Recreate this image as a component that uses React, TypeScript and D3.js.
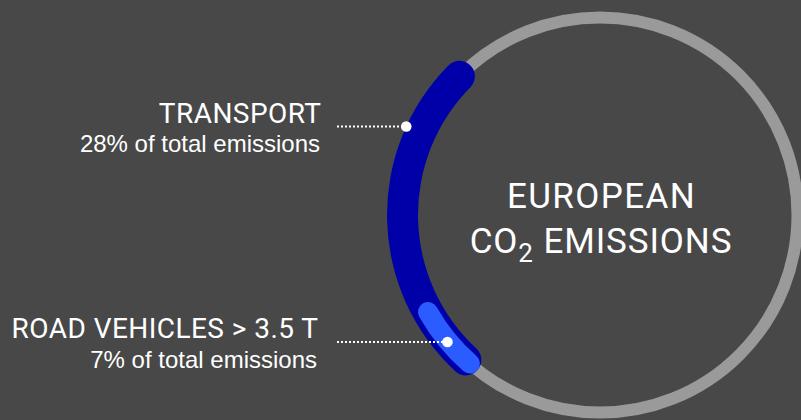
import React from "react";
import * as d3 from "d3";

// ---- data ----
const categories = ["TRANSPORT", "ROAD VEHICLES > 3.5 T"];
const shares = [28, 7]; // % of total EU CO2 emissions
const subtitles = ["28% of total emissions", "7% of total emissions"];
const titleLines = ["EUROPEAN", "CO", "2", " EMISSIONS"];

const W = 801;
const H = 420;
const cx = 600;
const cy = 215;
const ringR = 197.5;
const startDeg = 218.3; // where the arcs begin (clockwise from 12 o'clock)

const BG = "#484848";
const RING = "#9a9a9a";
const DARK = "#0000a8";
const LIGHT = "#2b5cff";
const headFont = "Roboto, 'DejaVu Sans', sans-serif";
const subFont = "'Liberation Sans', Arial, sans-serif";

export default function App() {
  const angle = d3.scaleLinear().domain([0, 100]).range([0, 2 * Math.PI]);
  const a0 = (startDeg * Math.PI) / 180;

  const darkArc = d3
    .arc<any>()
    .innerRadius(ringR - 15.5)
    .outerRadius(ringR + 15.5)
    .cornerRadius(15.5);
  const lightArc = d3
    .arc<any>()
    .innerRadius(ringR - 10)
    .outerRadius(ringR + 10)
    .cornerRadius(10);

  const arcs = [
    { gen: darkArc, color: DARK, s: a0, e: a0 + angle(shares[0]) },
    { gen: lightArc, color: LIGHT, s: a0, e: a0 + angle(shares[1]) },
  ];

  // label layout: line y, radius where leader meets arc, text x-end
  const labels = [
    { titleY: 123.3, subY: 152.3, lineY: 126.5, r: ringR + 15.5, tx: 321.5, sx: 320 },
    { titleY: 338.3, subY: 368.3, lineY: 342, r: ringR + 1, tx: 318.5, sx: 317 },
  ];

  return (
    <div style={{ position: "absolute", left: 0, top: 0, width: W, height: H, background: BG }}>
      <svg width={W} height={H} style={{ display: "block" }}>
        <rect width={W} height={H} fill={BG} />
        <circle cx={cx} cy={cy} r={ringR} fill="none" stroke={RING} strokeWidth={12} />
        <g transform={`translate(${cx},${cy})`}>
          {arcs.map((a, i) => (
            <path
              key={i}
              d={a.gen({ startAngle: a.s, endAngle: a.e }) as string}
              fill={a.color}
            />
          ))}
        </g>
        {labels.map((l, i) => {
          const dy = l.lineY - cy;
          const dotX = cx - Math.sqrt(l.r * l.r - dy * dy);
          return (
            <g key={i}>
              <line
                x1={337}
                x2={dotX}
                y1={l.lineY}
                y2={l.lineY}
                stroke="#fff"
                strokeWidth={2}
                strokeDasharray="2 2"
              />
              <circle cx={dotX} cy={l.lineY} r={5.3} fill="#fff" />
              <text
                x={l.tx}
                y={l.titleY}
                textAnchor="end"
                fill="#fff"
                fontFamily={headFont}
                fontSize={28}
                letterSpacing={0.45}
              >
                {categories[i]}
              </text>
              <text
                x={l.sx}
                y={l.subY}
                textAnchor="end"
                fill="#fff"
                fontFamily={subFont}
                fontSize={24}
              >
                {subtitles[i]}
              </text>
            </g>
          );
        })}
        <text
          x={cx + 1.5}
          y={208.3}
          textAnchor="middle"
          fill="#fff"
          fontFamily={headFont}
          fontSize={35}
          letterSpacing={1.4}
        >
          {titleLines[0]}
        </text>
        <text
          x={cx + 1}
          y={253.3}
          textAnchor="middle"
          fill="#fff"
          fontFamily={headFont}
          fontSize={35}
          letterSpacing={0.9}
        >
          {titleLines[1]}
          <tspan fontSize={26} dy={9}>
            {titleLines[2]}
          </tspan>
          <tspan dy={-9}>{titleLines[3]}</tspan>
        </text>
      </svg>
    </div>
  );
}
